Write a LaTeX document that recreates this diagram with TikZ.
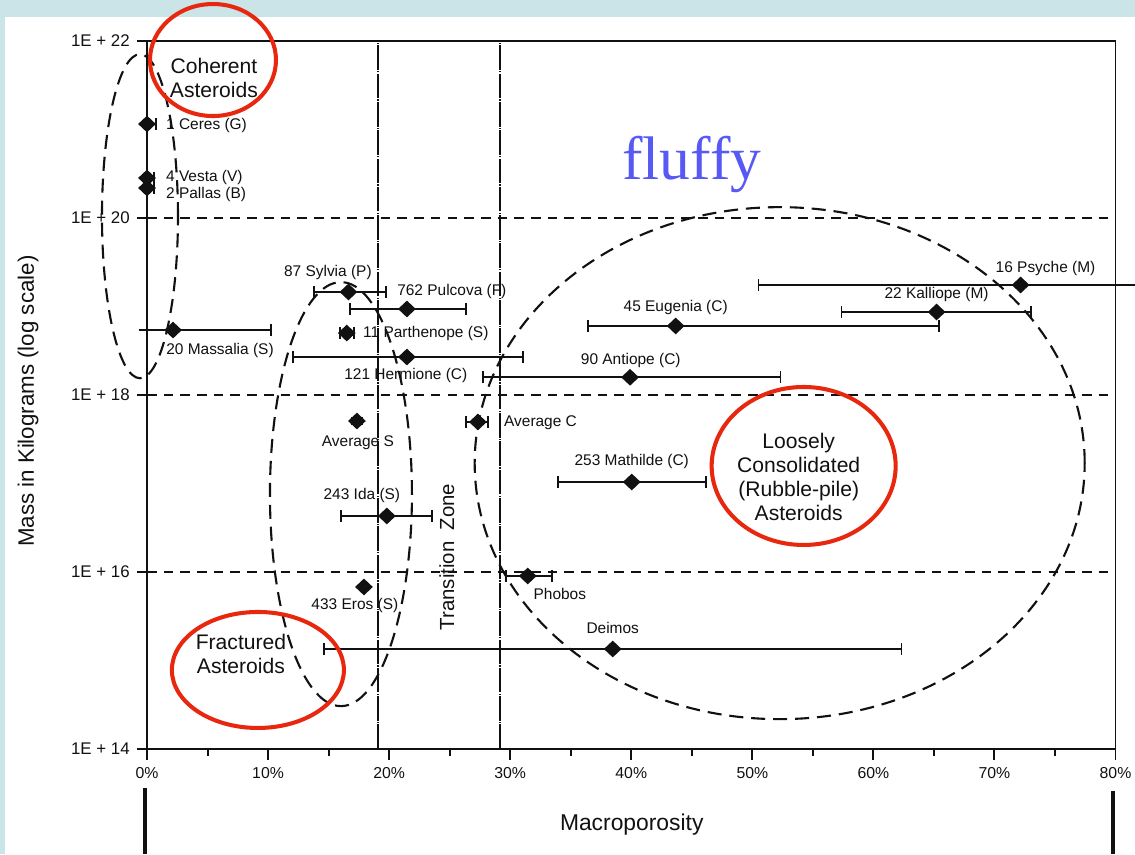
\documentclass[tikz,border=0pt]{standalone}
\usepackage{fontspec}
\setmainfont{Liberation Sans}
\newfontfamily\serifhand{Liberation Serif}
\usetikzlibrary{arrows.meta, shapes.geometric}
\definecolor{PlotBand}{HTML}{CBE4E8}
\definecolor{PlotInk}{HTML}{111111}
\definecolor{MarkRed}{HTML}{E8280E}
\definecolor{FluffBlue}{HTML}{5858F5}

\begin{document}
\begin{tikzpicture}[
    font=\fontsize{9}{10}\selectfont,
    % Chart Styles
    axisline/.style={line width=1.1pt, PlotInk},
    gridline/.style={line width=0.9pt, PlotInk, dash pattern=on 5.5pt off 4pt},
    zoneline/.style={line width=0.9pt, PlotInk, dash pattern=on 14pt off 0.7pt on 0.7pt off 0.7pt},
    zoneoval/.style={line width=1.2pt, PlotInk, dash pattern=on 8pt off 4.5pt},
    redring/.style={line width=2.3pt, MarkRed},
    % Data Styles
    errbar/.style={line width=1pt, PlotInk},
    capped/.style={errbar, {Bar[width=2.4mm]}-{Bar[width=2.4mm]}},
    rightcap/.style={errbar, -{Bar[width=2.4mm]}},
    leftcap/.style={errbar, {Bar[width=2.4mm]}-},
    rock/.style={diamond, fill=PlotInk, inner sep=0pt, minimum width=3.6mm, minimum height=3.4mm},
    rocklabel/.style={font=\fontsize{8.8}{10}\selectfont, text=PlotInk, inner sep=0pt},
    classlabel/.style={font=\fontsize{12}{13.6}\selectfont, align=center, text=PlotInk, inner sep=0pt},
    ticklabel/.style={font=\fontsize{9.6}{11}\selectfont, text=PlotInk, inner sep=0pt}
]

    % ==========================================
    % BACKGROUND
    % ==========================================
    \useasboundingbox (0,0) rectangle (22.7,17.08);
    \fill[PlotBand] (0,0) rectangle (22.7,17.08);
    \fill[white] (0.1,0) rectangle (22.7,16.74);

    % stray bars below the axis
    \draw[line width=2.8pt, PlotInk] (2.90,0) -- (2.90,1.32);
    \draw[line width=2.8pt, PlotInk] (22.26,0) -- (22.26,1.26);

    % ==========================================
    % CHART: porosity (%) against log mass - 14
    % ==========================================
    \begin{scope}[shift={(2.94,2.10)}, x=0.242125cm, y=1.77cm]

        % grid and zone borders
        \foreach \L in {2,4,6}
            \draw[gridline] (0,\L) -- (80,\L);
        \draw[zoneline] (19.07,0) -- (19.07,8);
        \draw[zoneline] (29.15,0) -- (29.15,8);

        % frame and ticks
        \draw[axisline] (0,0) rectangle (80,8);
        \foreach \p in {0,10,...,80} {
            \draw[axisline] (\p,0) -- ++(0,-0.22cm);
            \node[ticklabel, font=\fontsize{9}{10}\selectfont] (xt\p) at (\p,-0.27) {\p\%};
        }
        \foreach \p in {5,15,...,75}
            \draw[axisline] (\p,0) -- ++(0,-0.14cm);
        \foreach \L/\e in {0/14, 2/16, 4/18, 6/20, 8/22} {
            \draw[axisline] (0,\L) -- ++(-0.2cm,0);
            \node[ticklabel, anchor=east] (yt\e) at (-1.4,\L) {1E + \e};
        }

        % axis titles
        \node[font=\fontsize{13}{15}\selectfont, text=PlotInk] (xtitle) at (40.04,-0.85) {Macroporosity};
        \node[font=\fontsize{12.7}{15}\selectfont, text=PlotInk, rotate=90] (ytitle) at (-9.82,3.93) {Mass in Kilograms (log scale)};

        % dashed class regions
        \draw[zoneoval] (-0.58,6.02) ellipse [x radius=0.76cm, y radius=3.24cm];
        \draw[zoneoval] (16.02,2.88) ellipse [x radius=1.42cm, y radius=4.24cm];
        \draw[zoneoval] (52.26,3.23) ellipse [x radius=6.10cm, y radius=5.12cm];

        % ==========================================
        % ERROR BARS
        % ==========================================
        \draw[rightcap] (0,7.062) -- (0.83,7.062);
        \draw[rightcap] (0,6.452) -- (0.66,6.452);
        \draw[rightcap] (0,6.339) -- (0.66,6.339);
        \draw[rightcap] (-0.7,4.734) -- (10.3,4.734);
        \draw[capped] (13.7,5.164) -- (19.8,5.164);
        \draw[capped] (16.68,4.972) -- (26.42,4.972);
        \draw[capped] (15.85,4.70) -- (17.17,4.70);
        \draw[capped] (11.97,4.429) -- (31.1,4.429);
        \draw[capped] (27.66,4.20) -- (52.4,4.20);
        \draw[capped] (36.33,4.78) -- (65.47,4.78);
        \draw[capped] (57.3,4.938) -- (73.07,4.938);
        \draw[leftcap] (50.44,5.243) -- (81.6,5.243);
        \draw[errbar, {Bar[width=1.6mm]}-{Bar[width=1.6mm]}] (16.85,3.706) -- (17.85,3.706);
        \draw[capped] (26.25,3.695) -- (28.24,3.695);
        \draw[capped] (33.85,3.017) -- (46.23,3.017);
        \draw[capped] (15.93,2.633) -- (23.61,2.633);
        \draw[capped] (29.56,1.955) -- (33.52,1.955);
        \draw[capped] (14.53,1.13) -- (62.4,1.13);

        % ==========================================
        % ASTEROIDS
        % ==========================================
        \node[rock] (ceres) at (0,7.062) {};
        \node[rock] (vesta) at (0,6.452) {};
        \node[rock] (pallas) at (0,6.339) {};
        \node[rock] (massalia) at (2.15,4.734) {};
        \node[rock] (sylvia) at (16.64,5.164) {};
        \node[rock] (pulcova) at (21.47,4.972) {};
        \node[rock] (parthenope) at (16.5,4.70) {};
        \node[rock] (hermione) at (21.47,4.429) {};
        \node[rock] (antiope) at (39.9,4.20) {};
        \node[rock] (eugenia) at (43.67,4.78) {};
        \node[rock] (kalliope) at (65.22,4.938) {};
        \node[rock] (psyche) at (72.16,5.243) {};
        \node[rock] (avgS) at (17.34,3.706) {};
        \node[rock] (avgC) at (27.33,3.695) {};
        \node[rock] (mathilde) at (40.04,3.017) {};
        \node[rock] (ida) at (19.81,2.633) {};
        \node[rock] (eros) at (17.92,1.831) {};
        \node[rock] (phobos) at (31.45,1.955) {};
        \node[rock] (deimos) at (38.47,1.13) {};

        \node[rocklabel, anchor=west] (ceresL) at (1.55,7.05) {1 Ceres (G)};
        \node[rocklabel, anchor=west] (vestaL) at (1.55,6.46) {4 Vesta (V)};
        \node[rocklabel, anchor=west] (pallasL) at (1.55,6.26) {2 Pallas (B)};
        \node[rocklabel] (massaliaL) at (6.03,4.50) {20 Massalia (S)};
        \node[rocklabel] (sylviaL) at (14.94,5.38) {87 Sylvia (P)};
        \node[rocklabel] (pulcovaL) at (25.18,5.175) {762 Pulcova (F)};
        \node[rocklabel, anchor=west] (parthenopeL) at (17.83,4.70) {11 Parthenope (S)};
        \node[rocklabel] (hermioneL) at (21.38,4.215) {121 Hermione (C)};
        \node[rocklabel] (antiopeL) at (39.96,4.395) {90 Antiope (C)};
        \node[rocklabel] (eugeniaL) at (43.67,4.994) {45 Eugenia (C)};
        \node[rocklabel] (kalliopeL) at (65.22,5.13) {22 Kalliope (M)};
        \node[rocklabel] (psycheL) at (74.22,5.424) {16 Psyche (M)};
        \node[rocklabel] (avgSL) at (17.42,3.458) {Average S};
        \node[rocklabel, anchor=west] (avgCL) at (29.47,3.684) {Average C};
        \node[rocklabel] (mathildeL) at (40.04,3.243) {253 Mathilde (C)};
        \node[rocklabel] (idaL) at (17.75,2.87) {243 Ida (S)};
        \node[rocklabel] (erosL) at (17.17,1.627) {433 Eros (S)};
        \node[rocklabel] (phobosL) at (34.1,1.751) {Phobos};
        \node[rocklabel] (deimosL) at (38.47,1.367) {Deimos};

        % ==========================================
        % CLASS ANNOTATIONS
        % ==========================================
        \node[classlabel, font=\fontsize{11.6}{13}\selectfont, rotate=90] (zone) at (24.77,2.17) {Transition\ \ Zone};
        \node[font=\serifhand\fontsize{35}{40}\selectfont, text=FluffBlue, anchor=base, inner sep=0pt] (fluffy) at (45.0,6.44) {fluffy};

        \node[classlabel] (coherent) at (5.53,7.58) {Coherent\\Asteroids};
        \node[classlabel] (fractured) at (7.76,1.073) {Fractured\\Asteroids};
        \node[classlabel] (loose) at (53.83,3.073) {Loosely\\Consolidated\\(Rubble-pile)\\Asteroids};

        \draw[redring] (5.45,7.785) ellipse [x radius=1.26cm, y radius=1.12cm];
        \draw[redring] (9.16,0.893) ellipse [x radius=1.72cm, y radius=1.16cm];
        \draw[redring] (54.24,3.198) ellipse [x radius=1.84cm, y radius=1.58cm];
    \end{scope}

\end{tikzpicture}
\end{document}
